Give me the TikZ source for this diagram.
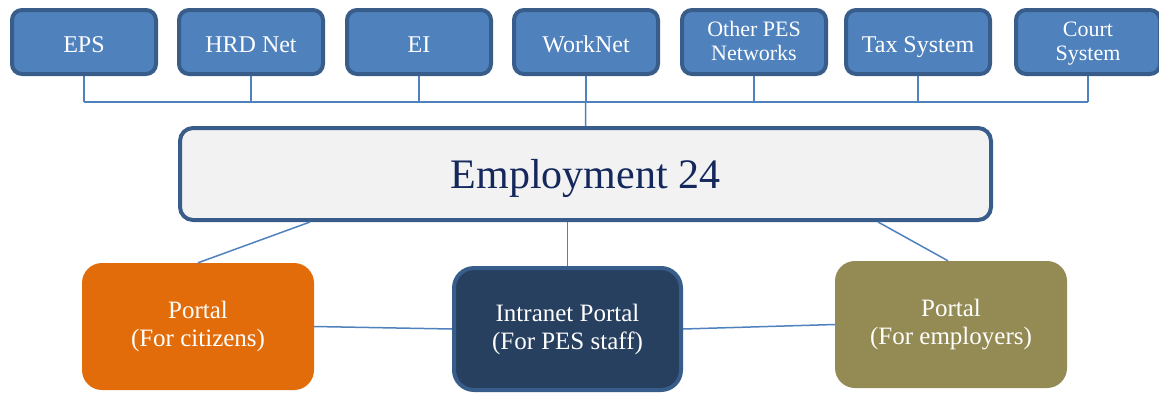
\documentclass[tikz,border=0pt]{standalone}
\usepackage{fontspec}
\setmainfont{Liberation Serif}
\usetikzlibrary{calc}
\definecolor{sysfill}{RGB}{79,129,189}
\definecolor{sysedge}{RGB}{56,93,138}
\definecolor{hubfill}{RGB}{242,242,242}
\definecolor{hubtext}{RGB}{20,40,92}
\definecolor{citfill}{RGB}{227,108,10}
\definecolor{stafffill}{RGB}{39,64,96}
\definecolor{emplfill}{RGB}{148,138,84}

\begin{document}
\begin{tikzpicture}[x=1pt,y=-1pt,
  sysbox/.style={draw=sysedge,line width=4pt,fill=sysfill,rounded corners=10pt,
    minimum width=144pt,minimum height=64pt,inner sep=0pt,text=white,align=center},
  hubbox/.style={draw=sysedge,line width=4pt,fill=hubfill,rounded corners=13pt,
    minimum width=811pt,minimum height=92pt,text=hubtext,text depth=0pt,
    font=\fontsize{42}{46}\selectfont},
  portal/.style={rounded corners=20pt,minimum width=232pt,minimum height=127pt,
    inner sep=0pt,text=white,align=center,font=\fontsize{25}{28}\selectfont},
  link/.style={draw=sysfill,line width=1.5pt}]
  \useasboundingbox (0,0) rectangle (1159,392);

  % systems on top
  \foreach \n/\x/\t/\s/\d in {1/84/EPS/24/6, 2/251/HRD Net/24/6, 3/419/EI/24/6,
      4/586/WorkNet/24/6, 5/754/{Other PES\\Networks}/22/2, 6/918/Tax System/24/6,
      7/1088/{Court\\System}/22/2} {
    \node[sysbox,font={\fontsize{\s}{24}\selectfont}] (sys\n) at (\x,42)
      {\raisebox{-\d pt}[\height][\depth]{\begin{tabular}{@{}c@{}}\t\end{tabular}}};
  }
  \coordinate (bus) at (0,102);

  % hub
  \node[hubbox] (hub) at (585.5,174) {Employment 24};

  % portals
  \node[portal,fill=citfill] (cit) at (198,326.5) {Portal\\(For citizens)};
  \node[portal,draw=sysedge,line width=4pt,fill=stafffill,
    minimum width=227pt,minimum height=122pt] (staff) at (567.5,329)
    {Intranet Portal\\(For PES staff)};
  \node[portal,fill=emplfill] (empl) at (951,324.5) {Portal\\(For employers)};

  % bus to the hub
  \foreach \n in {1,...,7} \draw[link] (sys\n.south) -- (sys\n.south |- bus);
  \draw[link] (sys1.south |- bus) -- (sys7.south |- bus);
  \draw[link] (sys4.south) -- (hub.north);

  % hub to portals
  \draw[link] ([xshift=-275.5pt]hub.south) -- (cit.north);
  \draw[link] (staff.north |- hub.south) -- (staff.north);
  \draw[link] ([xshift=292.5pt]hub.south) -- ([xshift=-3pt]empl.north);
  \draw[link] (cit.east) -- (staff.west);
  \draw[link] (staff.east) -- (empl.west);
\end{tikzpicture}
\end{document}
